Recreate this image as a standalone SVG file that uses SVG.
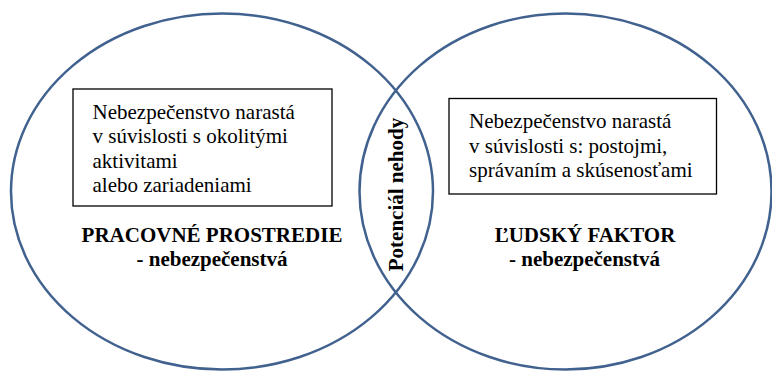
<svg xmlns="http://www.w3.org/2000/svg" width="772" height="372" viewBox="0 0 772 372">
<style>
.ell{fill:none;stroke:#41618F;stroke-width:2.5}
.box{fill:#fff;stroke:#000;stroke-width:1.3}
.t{font-family:'Liberation Serif','Times New Roman','DejaVu Serif',serif;font-size:21px;fill:#000}
.b{font-family:'Liberation Serif','Times New Roman','DejaVu Serif',serif;font-size:21px;font-weight:bold;fill:#000}
</style>
<rect width="772" height="372" fill="#fff"/>
<g id="circles">
<ellipse id="left-ellipse" class="ell" cx="222" cy="191.5" rx="211" ry="178"/>
<ellipse id="right-ellipse" class="ell" cx="565.5" cy="191.5" rx="206" ry="178"/>
</g>
<g id="left-box">
<rect class="box" x="73" y="89" width="259" height="117"/>
<text class="t" x="92.5" y="119">Nebezpečenstvo narastá</text>
<text class="t" x="92.5" y="143.3">v súvislosti s okolitými</text>
<text class="t" x="92.5" y="167.7">aktivitami</text>
<text class="t" x="92.5" y="192">alebo zariadeniami</text>
</g>
<g id="right-box">
<rect class="box" x="449" y="98.5" width="267.5" height="95.5"/>
<text class="t" x="469" y="128.3">Nebezpečenstvo narastá</text>
<text class="t" x="469" y="152.7">v súvislosti s: postojmi,</text>
<text class="t" x="469" y="177">správaním a skúsenosťami</text>
</g>
<g id="left-label">
<text class="b" x="212" y="241.7" text-anchor="middle">PRACOVNÉ PROSTREDIE</text>
<text class="b" x="212" y="265.5" text-anchor="middle">- nebezpečenstvá</text>
</g>
<g id="right-label">
<text class="b" x="585" y="241.7" text-anchor="middle">ĽUDSKÝ FAKTOR</text>
<text class="b" x="584.5" y="265.5" text-anchor="middle">- nebezpečenstvá</text>
</g>
<g id="intersection-label">
<text class="b" transform="translate(403,194.5) rotate(-90)" text-anchor="middle">Potenciál nehody</text>
</g>
</svg>
